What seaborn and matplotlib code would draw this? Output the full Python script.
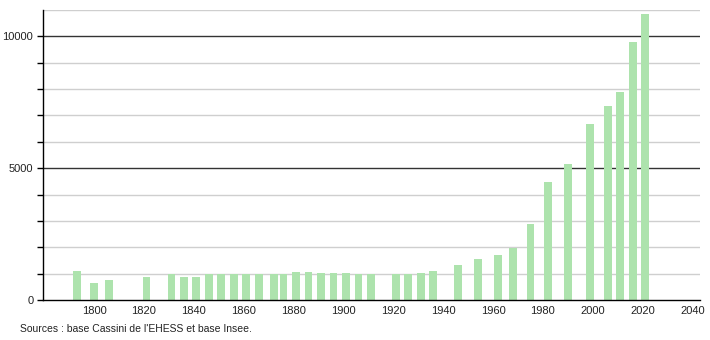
import matplotlib
matplotlib.use("Agg")
import matplotlib.pyplot as plt
import seaborn as sns
import pandas as pd
from matplotlib.ticker import FixedLocator

years = [1793, 1800, 1806, 1821, 1831, 1836, 1841, 1846, 1851, 1856, 1861, 1866,
         1872, 1876, 1881, 1886, 1891, 1896, 1901, 1906, 1911, 1921, 1926, 1931,
         1936, 1946, 1954, 1962, 1968, 1975, 1982, 1990, 1999, 2006, 2011, 2016, 2021]
population = [1110, 640, 740, 890, 990, 890, 890, 1000, 990, 990, 990, 990,
              990, 990, 1054, 1080, 1040, 1040, 1016, 990, 990, 990, 990, 1041,
              1105, 1333, 1562, 1714, 1968, 2895, 4483, 5143, 6667, 7350, 7873, 9778, 10857]
y_labels = [0, 5000, 10000]
x_labels = list(range(1800, 2041, 20))
source = "Sources : base Cassini de l'EHESS et base Insee."

df = pd.DataFrame({"year": years, "pop": population})

sns.set_style("white")
plt.rcParams['font.family'] = ['Liberation Sans', 'DejaVu Sans']

fig = plt.figure(figsize=(7.1, 3.4), dpi=100)
ax = fig.add_axes([43/710, 40/340, 657/710, 290/340])

# gridlines
for v in range(1000, 11001, 1000):
    dark = v % 5000 == 0
    ax.axhline(v, color="#333333" if dark else "#cfcfcf", lw=1.0, zorder=0)

ax.bar(df["year"], df["pop"], width=3.1, color="#ade3ad", edgecolor="none", zorder=2)

ax.set_xlim(1779.5, 2043)
ax.set_ylim(0, 11000)
ax.yaxis.set_major_locator(FixedLocator(y_labels))
ax.yaxis.set_minor_locator(FixedLocator([v for v in range(1000, 10000, 1000) if v % 5000]))
ax.set_yticklabels([str(v) for v in y_labels])
ax.xaxis.set_major_locator(FixedLocator(x_labels))
ax.set_xticklabels([str(v) for v in x_labels])
ax.tick_params(axis="y", which="both", left=True, length=4, width=1, color="black",
               labelsize=8, pad=3, labelcolor="#222222")
ax.tick_params(axis="x", bottom=False, labelsize=8, pad=1, labelcolor="#222222")

for s in ["top", "right"]:
    ax.spines[s].set_visible(False)
ax.spines["left"].set_color("black")
ax.spines["bottom"].set_color("black")
ax.spines["left"].set_linewidth(1)
ax.spines["bottom"].set_linewidth(1)

fig.text(20/710, 1 - 329/340, source, fontsize=7.5, va="center", ha="left", color="#222222")

fig.savefig("out.png", dpi=100)
